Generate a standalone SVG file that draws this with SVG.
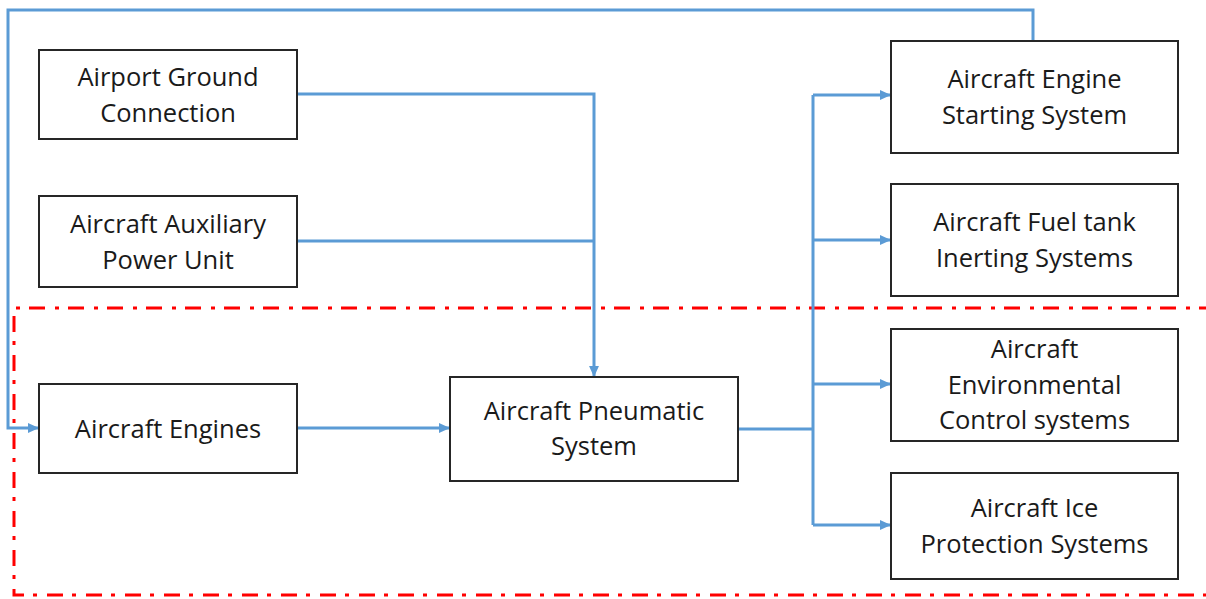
<svg xmlns="http://www.w3.org/2000/svg" width="1206" height="599" viewBox="0 0 1206 599">
<style>
.box{fill:#fff;stroke:#262626;stroke-width:2}
.t{font-family:"Open Sans","Liberation Sans",sans-serif;font-size:25.5px;fill:#1a1a1a;text-anchor:middle}
.c{fill:none;stroke:#5B9BD5;stroke-width:3}
.b{fill:none;stroke:#FF0000;stroke-width:3;stroke-dasharray:16 9 4 10}
</style>
<defs>
<marker id="ah" markerUnits="userSpaceOnUse" markerWidth="11" markerHeight="11" viewBox="0 0 10 10" refX="10" refY="5" orient="auto">
<path d="M0,0.5 L10,5 L0,9.5 Z" fill="#5B9BD5"/>
</marker>
</defs>
<path class="b" d="M1215,308 H14 V595 H1215"/>
<g id="connectors">
<path class="c" d="M297,94 H594 V377" marker-end="url(#ah)"/>
<path class="c" d="M297,241 H594"/>
<path class="c" d="M297,428 H450" marker-end="url(#ah)"/>
<path class="c" d="M738,429 H813"/>
<path class="c" d="M813,95 V525"/>
<path class="c" d="M813,95 H891" marker-end="url(#ah)"/>
<path class="c" d="M813,240 H891" marker-end="url(#ah)"/>
<path class="c" d="M813,384 H891" marker-end="url(#ah)"/>
<path class="c" d="M813,525 H891" marker-end="url(#ah)"/>
<path class="c" d="M1033,41 V10 H8 V428 H39" marker-end="url(#ah)"/>
</g>
<g id="airport-ground">
<rect class="box" x="39" y="50" width="258" height="89"/>
<text class="t" x="168" y="86">Airport Ground</text>
<text class="t" x="168" y="122">Connection</text>
</g>
<g id="apu">
<rect class="box" x="39" y="196" width="258" height="91"/>
<text class="t" x="168" y="233">Aircraft Auxiliary</text>
<text class="t" x="168" y="269">Power Unit</text>
</g>
<g id="engines">
<rect class="box" x="39" y="384" width="258" height="89"/>
<text class="t" x="168" y="438">Aircraft Engines</text>
</g>
<g id="pneumatic">
<rect class="box" x="450" y="377" width="288" height="104"/>
<text class="t" x="594" y="420">Aircraft Pneumatic</text>
<text class="t" x="594" y="455">System</text>
</g>
<g id="engine-starting">
<rect class="box" x="891" y="41" width="287" height="112"/>
<text class="t" x="1034.5" y="88">Aircraft Engine</text>
<text class="t" x="1034.5" y="124">Starting System</text>
</g>
<g id="fuel-tank">
<rect class="box" x="891" y="184" width="287" height="112"/>
<text class="t" x="1034.5" y="231">Aircraft Fuel tank</text>
<text class="t" x="1034.5" y="267">Inerting Systems</text>
</g>
<g id="ecs">
<rect class="box" x="891" y="329" width="287" height="112"/>
<text class="t" x="1034.5" y="358">Aircraft</text>
<text class="t" x="1034.5" y="394">Environmental</text>
<text class="t" x="1034.5" y="429">Control systems</text>
</g>
<g id="ice">
<rect class="box" x="891" y="473" width="287" height="106"/>
<text class="t" x="1034.5" y="517">Aircraft Ice</text>
<text class="t" x="1034.5" y="553">Protection Systems</text>
</g>
</svg>
